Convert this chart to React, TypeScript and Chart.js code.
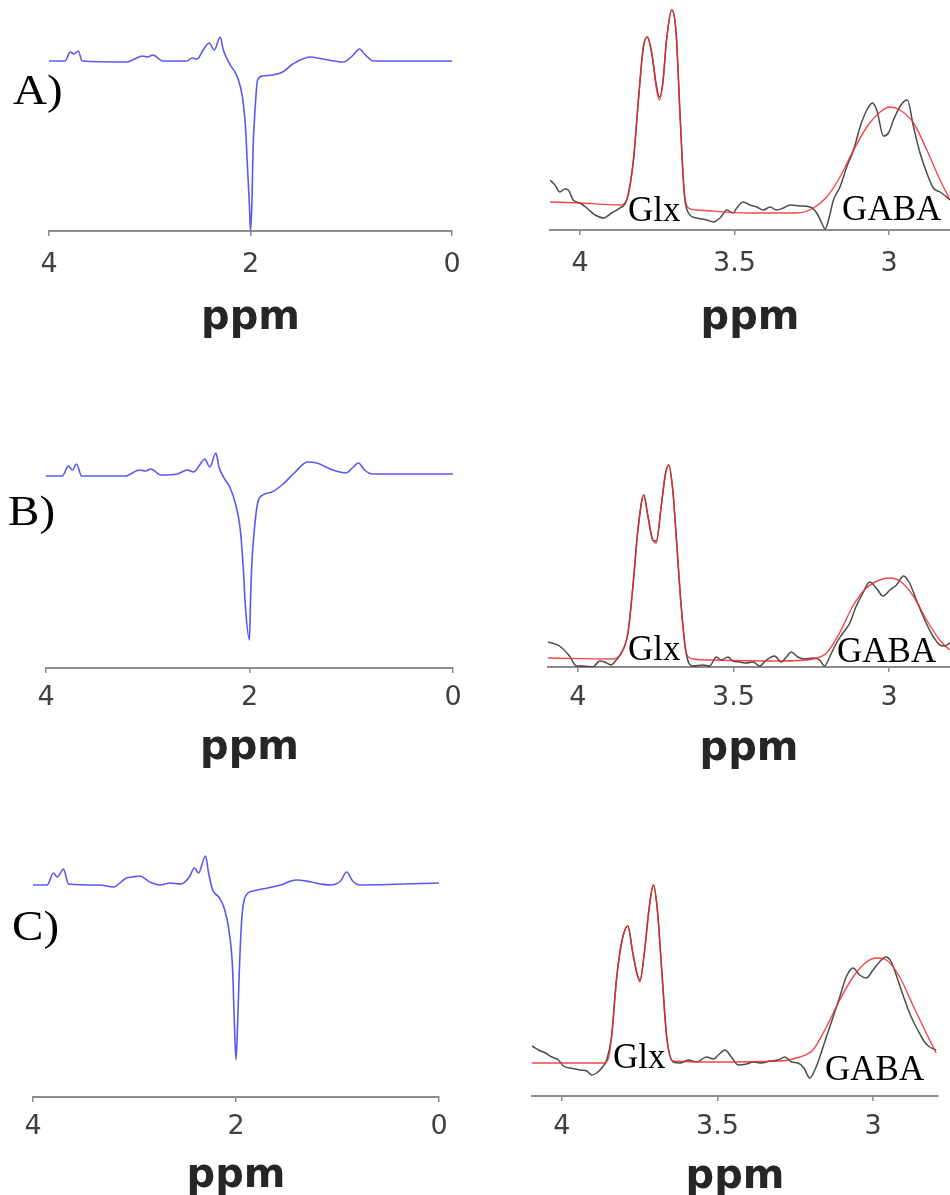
import React, { useEffect, useRef } from 'react';
import { Chart, registerables } from 'chart.js';
Chart.register(...registerables);

// ---------------- Data ----------------
const leftTicks = [0, 2, 4];
const leftTickLabels = ['0', '2', '4'];
const rightTicks = [3, 3.5, 4];
const rightTickLabels = ['3', '3.5', '4'];
const axisTitle = 'ppm';
const panelLetters = ['A)', 'B)', 'C)'];
const peakNames = ['Glx', 'GABA'];

// Left column: difference spectra (blue), ppm vs signal
const ppmBlueA = [4.0, 3.84, 3.79, 3.75, 3.71, 3.67, 3.23, 3.07, 3.02, 2.97, 2.87, 2.63, 2.58, 2.53, 2.47, 2.41, 2.36, 2.30, 2.27, 2.20, 2.13, 2.08, 2.05, 2.03, 2.01, 2.00, 1.985, 1.975, 1.955, 1.93, 1.88, 1.78, 1.68, 1.58, 1.41, 1.28, 1.08, 0.98, 0.92, 0.86, 0.78, 0.0];
const sigBlueA = [170, 170, 179, 177, 180, 170, 169, 175, 174, 176, 170, 170, 173, 172, 181, 188, 181, 194, 181, 166, 154, 134, 104, 64, 24, 0, 31, 81, 121, 151, 155, 156, 159, 167, 174, 172, 169, 176, 182, 176, 170, 170];

const ppmBlueB = [4.0, 3.84, 3.78, 3.74, 3.70, 3.65, 3.22, 3.08, 3.02, 2.97, 2.87, 2.71, 2.61, 2.55, 2.49, 2.44, 2.39, 2.33, 2.30, 2.25, 2.19, 2.14, 2.09, 2.06, 2.04, 2.0, 1.99, 1.975, 1.95, 1.92, 1.87, 1.78, 1.68, 1.56, 1.43, 1.34, 1.18, 1.05, 0.99, 0.93, 0.87, 0.79, 0.0];
const sigBlueB = [192, 192, 202, 198, 204, 192, 192, 198, 197, 199, 193, 194, 198, 196, 203, 209, 201, 215, 201, 190, 180, 165, 138, 98, 61, 28, 68, 108, 141, 165, 173, 176, 183, 195, 206, 205, 198, 195, 200, 205, 198, 194, 194];

const ppmBlueC = [4.0, 3.86, 3.80, 3.76, 3.70, 3.65, 3.34, 3.21, 3.08, 3.02, 2.95, 2.85, 2.75, 2.65, 2.54, 2.46, 2.41, 2.37, 2.30, 2.27, 2.23, 2.17, 2.12, 2.07, 2.033, 2.017, 2.0, 1.983, 1.967, 1.944, 1.91, 1.83, 1.69, 1.56, 1.41, 1.26, 1.16, 1.07, 0.97, 0.91, 0.85, 0.78, 0.0];
const sigBlueC = [212, 212, 224, 220, 228, 213, 212, 210, 219, 220, 221, 215, 212, 214, 213, 220, 229, 224, 241, 224, 207, 200, 190, 167, 127, 77, 37, 77, 127, 177, 200, 206, 209, 212, 217, 215, 213, 212, 216, 225, 216, 212, 214];

// Right column: measured (gray) and fitted (red) spectra
const ppmDataA = [4.097, 4.081, 4.065, 4.049, 4.038, 4.022, 4.0, 3.978, 3.951, 3.924, 3.898, 3.871, 3.849, 3.827, 3.811, 3.795, 3.782, 3.768, 3.752, 3.743, 3.732, 3.720, 3.703, 3.689, 3.676, 3.663, 3.649, 3.622, 3.590, 3.569, 3.547, 3.525, 3.504, 3.493, 3.472, 3.450, 3.428, 3.407, 3.385, 3.364, 3.342, 3.320, 3.288, 3.256, 3.234, 3.218, 3.207, 3.196, 3.180, 3.159, 3.137, 3.115, 3.094, 3.072, 3.054, 3.040, 3.018, 3.002, 2.986, 2.962, 2.941, 2.921, 2.900, 2.878, 2.857, 2.835, 2.814, 2.803];
const sigDataA = [50, 45, 38, 41, 40, 30, 27, 22, 15, 12, 17, 22, 30, 70, 130, 183, 193, 177, 143, 133, 147, 190, 220, 197, 113, 37, 17, 12, 10, 8, 12, 20, 17, 22, 28, 25, 23, 20, 23, 20, 22, 25, 24, 23, 17, 7, 1, 10, 30, 43, 63, 80, 103, 120, 127, 120, 94, 97, 110, 125, 130, 103, 77, 57, 42, 38, 33, 30];
const ppmFitA = [4.097, 4.0, 3.871, 3.849, 3.827, 3.811, 3.795, 3.782, 3.768, 3.752, 3.743, 3.732, 3.720, 3.703, 3.689, 3.676, 3.663, 3.649, 3.622, 3.460, 3.299, 3.245, 3.202, 3.159, 3.115, 3.072, 3.029, 2.997, 2.965, 2.921, 2.878, 2.835, 2.803];
const sigFitA = [28, 27, 25, 30, 70, 130, 183, 193, 177, 140, 130, 147, 190, 220, 197, 113, 40, 22, 20, 17, 17, 22, 33, 53, 80, 103, 118, 123, 120, 107, 80, 50, 30];

const ppmDataB = [4.096, 4.059, 4.027, 4.005, 3.984, 3.952, 3.930, 3.914, 3.893, 3.877, 3.855, 3.839, 3.823, 3.807, 3.788, 3.775, 3.759, 3.748, 3.732, 3.718, 3.708, 3.695, 3.684, 3.668, 3.652, 3.630, 3.598, 3.577, 3.555, 3.539, 3.518, 3.502, 3.480, 3.459, 3.437, 3.416, 3.394, 3.368, 3.346, 3.330, 3.314, 3.293, 3.271, 3.244, 3.223, 3.207, 3.191, 3.169, 3.148, 3.126, 3.105, 3.084, 3.062, 3.041, 3.019, 2.997, 2.976, 2.953, 2.934, 2.912, 2.885, 2.859, 2.837, 2.821, 2.805];
const sigDataB = [25, 21, 11, 1, 1, 0, 6, 5, 2, 7, 17, 34, 81, 137, 172, 151, 127, 126, 161, 194, 202, 177, 131, 61, 14, 1, 2, 1, 10, 7, 10, 6, 5, 4, 5, 1, 7, 11, 5, 10, 15, 10, 8, 9, 7, 1, 10, 24, 34, 44, 61, 74, 85, 79, 71, 77, 82, 91, 84, 67, 47, 31, 22, 21, 24];
const ppmFitB = [4.096, 3.887, 3.861, 3.839, 3.823, 3.807, 3.788, 3.775, 3.759, 3.748, 3.732, 3.718, 3.708, 3.695, 3.684, 3.668, 3.652, 3.630, 3.566, 3.352, 3.244, 3.201, 3.159, 3.116, 3.073, 3.030, 2.997, 2.965, 2.922, 2.879, 2.837, 2.805];
const sigFitB = [9, 8, 14, 34, 81, 137, 172, 151, 127, 124, 161, 194, 202, 177, 131, 61, 14, 8, 7, 6, 8, 14, 34, 61, 79, 87, 89, 86, 71, 47, 27, 17];

const ppmDataC = [4.096, 4.075, 4.053, 4.032, 4.011, 3.995, 3.973, 3.941, 3.920, 3.904, 3.888, 3.872, 3.856, 3.840, 3.824, 3.807, 3.788, 3.772, 3.759, 3.749, 3.735, 3.719, 3.706, 3.693, 3.679, 3.663, 3.642, 3.620, 3.594, 3.567, 3.535, 3.513, 3.497, 3.476, 3.455, 3.433, 3.406, 3.385, 3.358, 3.332, 3.305, 3.283, 3.262, 3.241, 3.222, 3.203, 3.187, 3.171, 3.150, 3.128, 3.107, 3.086, 3.064, 3.043, 3.021, 3.000, 2.979, 2.959, 2.941, 2.920, 2.898, 2.877, 2.856, 2.834, 2.818, 2.797];
const sigDataC = [50, 46, 43, 39, 36, 30, 28, 26, 25, 21, 23, 28, 36, 60, 118, 155, 170, 143, 123, 116, 143, 189, 211, 186, 126, 59, 34, 33, 36, 34, 39, 37, 41, 46, 39, 31, 32, 34, 33, 35, 36, 39, 34, 33, 28, 18, 26, 39, 59, 79, 99, 119, 128, 121, 118, 126, 134, 139, 134, 116, 96, 79, 66, 54, 49, 46];
const ppmFitC = [4.096, 3.866, 3.850, 3.840, 3.824, 3.807, 3.788, 3.772, 3.759, 3.749, 3.735, 3.719, 3.706, 3.693, 3.679, 3.663, 3.642, 3.513, 3.299, 3.235, 3.193, 3.150, 3.107, 3.064, 3.021, 2.989, 2.957, 2.914, 2.872, 2.829, 2.797];
const sigFitC = [33, 33, 38, 60, 118, 155, 170, 143, 123, 114, 143, 189, 211, 186, 126, 59, 35, 34, 35, 39, 46, 69, 96, 119, 134, 138, 136, 119, 91, 63, 43];

// Label anchors (data coordinates: ppm, signal) for Glx / GABA
const noteAnchorsA = [[3.845, 9], [3.152, 10]];
const noteAnchorsB = [[3.839, 7], [3.167, 5]];
const noteAnchorsC = [[3.836, 28], [3.154, 16]];

// ---------------- Styles / layout ----------------
const BLUE = 'rgba(60,60,238,0.85)';
const GRAY = 'rgba(45,45,45,0.85)';
const RED = 'rgba(238,40,40,0.85)';
const AXIS = '#8c8c8c';
const SANS = '"DejaVu Sans", "Liberation Sans", Arial, sans-serif';
const SERIF = '"Liberation Serif", "Times New Roman", serif';

type Series = { ppm: number[]; sig: number[]; color: string; width: number };
type PanelCfg = {
  canvasL: number; canvasW: number; axisY: number; chartL: number; chartR: number;
  yMax: number; H: number; tickPad: number; xMin: number; xMax: number;
  ticks: number[]; tickLabels: string[]; series: Series[]; notes: number[][];
};

const panels: PanelCfg[] = [
  { canvasL: 0, canvasW: 475, axisY: 231, chartL: 49, chartR: 452, yMax: 225, H: 112, tickPad: 13, xMin: 0, xMax: 4, ticks: leftTicks, tickLabels: leftTickLabels, series: [{ ppm: ppmBlueA, sig: sigBlueA, color: BLUE, width: 1.6 }], notes: [] },
  { canvasL: 480, canvasW: 470, axisY: 230, chartL: 550, chartR: 950, yMax: 230, H: 113, tickPad: 13, xMin: 2.803, xMax: 4.097, ticks: rightTicks, tickLabels: rightTickLabels, series: [{ ppm: ppmFitA, sig: sigFitA, color: RED, width: 1.4 }, { ppm: ppmDataA, sig: sigDataA, color: GRAY, width: 1.5 }], notes: noteAnchorsA },
  { canvasL: 0, canvasW: 475, axisY: 668, chartL: 46, chartR: 453, yMax: 230, H: 105, tickPad: 9, xMin: 0, xMax: 4, ticks: leftTicks, tickLabels: leftTickLabels, series: [{ ppm: ppmBlueB, sig: sigBlueB, color: BLUE, width: 1.6 }], notes: [] },
  { canvasL: 480, canvasW: 470, axisY: 667, chartL: 548, chartR: 950, yMax: 230, H: 107, tickPad: 10, xMin: 2.804, xMax: 4.096, ticks: rightTicks, tickLabels: rightTickLabels, series: [{ ppm: ppmFitB, sig: sigFitB, color: RED, width: 1.4 }, { ppm: ppmDataB, sig: sigDataB, color: GRAY, width: 1.5 }], notes: noteAnchorsB },
  { canvasL: 0, canvasW: 475, axisY: 1097, chartL: 33, chartR: 439, yMax: 245, H: 104, tickPad: 9, xMin: 0, xMax: 4, ticks: leftTicks, tickLabels: leftTickLabels, series: [{ ppm: ppmBlueC, sig: sigBlueC, color: BLUE, width: 1.6 }], notes: [] },
  { canvasL: 480, canvasW: 470, axisY: 1096, chartL: 532, chartR: 938, yMax: 230, H: 106, tickPad: 10, xMin: 2.791, xMax: 4.096, ticks: rightTicks, tickLabels: rightTickLabels, series: [{ ppm: ppmFitC, sig: sigFitC, color: RED, width: 1.4 }, { ppm: ppmDataC, sig: sigDataC, color: GRAY, width: 1.5 }], notes: noteAnchorsC },
];

const letterPos = [
  { left: 13, top: 69 },
  { left: 8, top: 490 },
  { left: 12, top: 905 },
];

function SpectrumPanel({ cfg }: { cfg: PanelCfg }) {
  const ref = useRef<HTMLCanvasElement>(null);
  const height = cfg.yMax + cfg.H;
  useEffect(() => {
    const canvas = ref.current;
    if (!canvas) return;
    const notesPlugin = {
      id: 'peakNotes',
      afterDatasetsDraw(chart: any) {
        const { ctx } = chart;
        const xs = chart.scales.x;
        const ys = chart.scales.y;
        ctx.save();
        ctx.font = `35px ${SERIF}`;
        ctx.fillStyle = '#000';
        ctx.textAlign = 'left';
        ctx.textBaseline = 'alphabetic';
        cfg.notes.forEach((n, i) => {
          ctx.fillText(peakNames[i], xs.getPixelForValue(n[0]), ys.getPixelForValue(n[1]));
        });
        ctx.restore();
      },
    };
    const chart = new Chart(canvas, {
      type: 'line',
      data: {
        datasets: cfg.series.map((s) => ({
          data: s.ppm.map((x, i) => ({ x, y: s.sig[i] })),
          borderColor: s.color,
          borderWidth: s.width,
          pointRadius: 0,
          fill: false,
          cubicInterpolationMode: 'monotone' as const,
        })),
      },
      options: {
        responsive: false,
        animation: false,
        devicePixelRatio: 1,
        layout: { padding: { left: cfg.chartL - cfg.canvasL, right: cfg.canvasL + cfg.canvasW - cfg.chartR, top: 0, bottom: 0 } },
        plugins: { legend: { display: false }, tooltip: { enabled: false } },
        scales: {
          x: {
            type: 'linear',
            reverse: true,
            min: cfg.xMin,
            max: cfg.xMax,
            position: 'bottom',
            afterBuildTicks: (s: any) => { s.ticks = cfg.ticks.map((v) => ({ value: v })); },
            afterFit: (s: any) => { s.height = cfg.H; },
            ticks: {
              autoSkip: false,
              maxRotation: 0,
              padding: cfg.tickPad,
              color: '#404040',
              font: { family: SANS, size: 27 },
              callback: (v: any) => { const i = cfg.ticks.indexOf(Number(v)); return i >= 0 ? cfg.tickLabels[i] : ''; },
            },
            grid: { drawOnChartArea: false, drawTicks: true, tickLength: 5, color: AXIS, lineWidth: 1.5 },
            border: { display: true, color: AXIS, width: 2 },
            title: { display: true, text: axisTitle, color: '#262626', font: { family: SANS, size: 40, weight: 'bold' }, padding: 0 },
          },
          y: { display: false, min: 0, max: cfg.yMax },
        },
      },
      plugins: [notesPlugin],
    } as any);
    return () => chart.destroy();
  }, [cfg]);
  return (
    <canvas
      ref={ref}
      width={cfg.canvasW}
      height={height}
      style={{ position: 'absolute', left: cfg.canvasL, top: cfg.axisY - cfg.yMax, width: cfg.canvasW, height }}
    />
  );
}

export default function App() {
  return (
    <div style={{ position: 'absolute', left: 0, top: 0, width: 950, height: 1195, background: '#fff', overflow: 'hidden' }}>
      {panels.map((p, i) => <SpectrumPanel key={i} cfg={p} />)}
      {panelLetters.map((t, i) => (
        <div
          key={t}
          style={{
            position: 'absolute', left: letterPos[i].left, top: letterPos[i].top,
            fontFamily: SERIF, fontSize: 42, lineHeight: '42px', color: '#000',
            transform: 'scaleX(1.12)', transformOrigin: 'left top', whiteSpace: 'nowrap',
          }}
        >
          {t}
        </div>
      ))}
    </div>
  );
}
